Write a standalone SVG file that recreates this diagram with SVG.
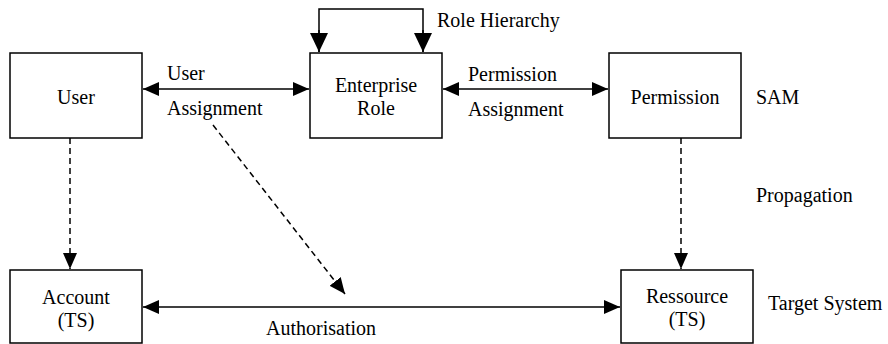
<svg xmlns="http://www.w3.org/2000/svg" width="888" height="344" viewBox="0 0 888 344">
<style>
.box{fill:#fff;stroke:#000;stroke-width:1.5}
.t{font-family:'Liberation Serif','Times New Roman',serif;font-size:20px;fill:#000}
.c{text-anchor:middle}
.ln{fill:none;stroke:#000;stroke-width:1.5}
.d{stroke-dasharray:6 4}
</style>
<defs>
<marker id="ah" markerUnits="userSpaceOnUse" markerWidth="16" markerHeight="14" refX="16" refY="7" orient="auto-start-reverse"><path d="M0,0 L16,7 L0,14 z" fill="#000"/></marker>
<marker id="ahb" markerUnits="userSpaceOnUse" markerWidth="19" markerHeight="18" refX="19" refY="9" orient="auto"><path d="M0,0 L19,9 L0,18 z" fill="#000"/></marker>
</defs>
<g id="connectors">
<line class="ln" x1="143" y1="89" x2="309" y2="89" marker-start="url(#ah)" marker-end="url(#ah)"/>
<line class="ln" x1="443" y1="89" x2="608" y2="89" marker-start="url(#ah)" marker-end="url(#ah)"/>
<line class="ln" x1="143" y1="307" x2="620" y2="307" marker-start="url(#ah)" marker-end="url(#ah)"/>
<path class="ln" d="M319,52 V9 H423 V52"/>
<line class="ln" x1="319" y1="30" x2="319" y2="52" marker-end="url(#ahb)"/>
<line class="ln" x1="423" y1="30" x2="423" y2="52" marker-end="url(#ahb)"/>
<line class="ln d" x1="70" y1="138" x2="70" y2="269" marker-end="url(#ah)"/>
<line class="ln d" x1="681" y1="138" x2="681" y2="269" marker-end="url(#ah)"/>
<line class="ln d" x1="213" y1="125" x2="345" y2="294" marker-end="url(#ah)"/>
</g>
<g id="user"><rect class="box" x="10" y="53" width="132" height="85"/><text class="t c" x="76" y="104">User</text></g>
<g id="enterprise-role"><rect class="box" x="310" y="53" width="132" height="85"/><text class="t c" x="376" y="92">Enterprise</text><text class="t c" x="376" y="115">Role</text></g>
<g id="permission"><rect class="box" x="609" y="53" width="132" height="85"/><text class="t c" x="675" y="104">Permission</text></g>
<g id="account"><rect class="box" x="10" y="270" width="132" height="73"/><text class="t c" x="76" y="304">Account</text><text class="t c" x="76" y="327">(TS)</text></g>
<g id="ressource"><rect class="box" x="621" y="270" width="132" height="73"/><text class="t c" x="687" y="303">Ressource</text><text class="t c" x="687" y="326">(TS)</text></g>
<g id="labels">
<text class="t" x="437" y="27">Role Hierarchy</text>
<text class="t" x="167" y="80">User</text>
<text class="t" x="167" y="115">Assignment</text>
<text class="t" x="468" y="81">Permission</text>
<text class="t" x="468" y="116">Assignment</text>
<text class="t" x="756" y="104">SAM</text>
<text class="t" x="756" y="202">Propagation</text>
<text class="t" x="768" y="310">Target System</text>
<text class="t c" x="321" y="335">Authorisation</text>
</g>
</svg>
